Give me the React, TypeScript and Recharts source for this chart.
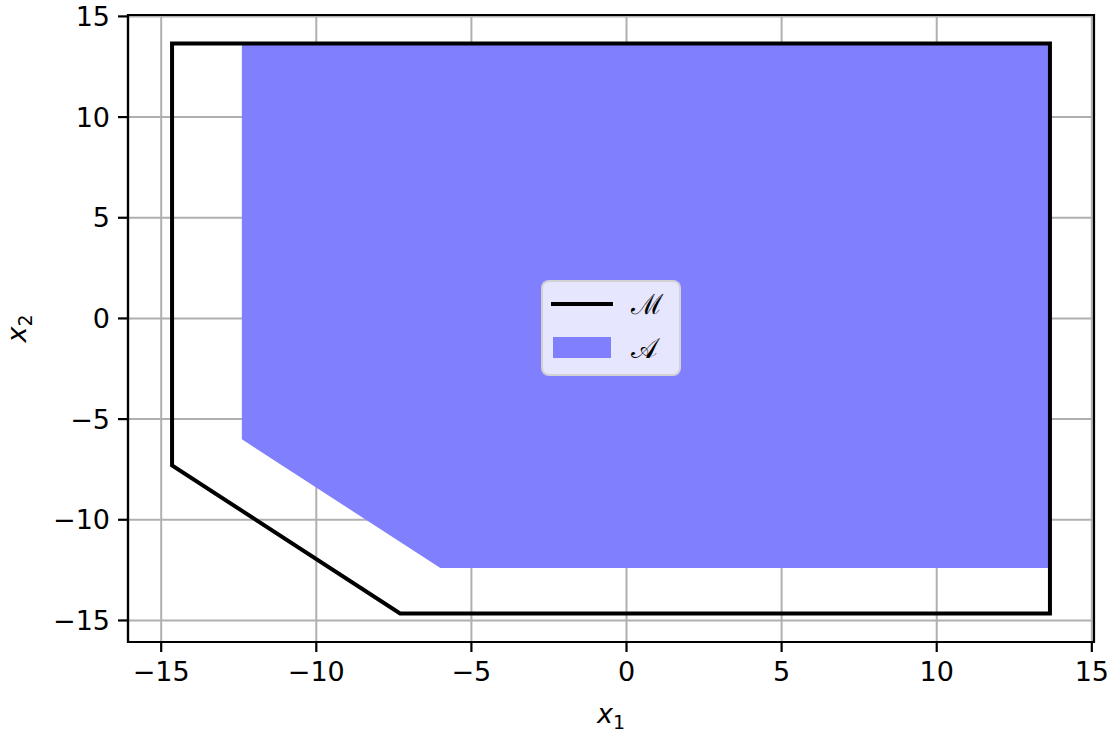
import React from "react";
import {
  ComposedChart,
  Area,
  Line,
  CartesianGrid,
  XAxis,
  YAxis,
  Legend,
  ReferenceArea,
} from "recharts";

// polígono M (contorno negro)
const mX = [-14.65, 13.65, 13.65, -7.3, -14.65, -14.65];
const mY = [13.65, 13.65, -14.65, -14.65, -7.3, 13.65];

// región A (relleno azul): borde inferior / superior
const aX = [-12.4, -6.0, 13.65];
const aLow = [-6.0, -12.4, -12.4];
const aHigh = [13.65, 13.65, 13.65];

const ticks = [-15, -10, -5, 0, 5, 10, 15];
const domain: [number, number] = [-16.07, 15.07];

const aData = aX.map((x, i) => ({ x, range: [aLow[i], aHigh[i]] }));
const mData = mX.map((x, i) => ({ x, y: mY[i] }));

const FONT = "DejaVu Sans, sans-serif";
const fmt = (v: number) => (v < 0 ? `\u2212${-v}` : `${v}`);

const LegendBox = () => (
  <div
    style={{
      width: 136,
      height: 92,
      background: "rgba(255,255,255,0.8)",
      border: "2px solid rgba(204,204,204,0.8)",
      borderRadius: 8,
      position: "relative",
      fontFamily: FONT,
    }}
  >
    <svg width={136} height={92} style={{ position: "absolute", left: 0, top: 0 }}>
      <line x1={8} x2={70} y1={22} y2={22} stroke="#000" strokeWidth={4} />
      <rect x={10} y={55} width={58} height={21} fill="#8080ff" />
      <text x={88} y={32} fontSize={28} fontFamily="DejaVu Serif, serif" fill="#000">
        ℳ
      </text>
      <text x={88} y={76} fontSize={28} fontFamily="DejaVu Serif, serif" fill="#000">
        𝒜
      </text>
    </svg>
  </div>
);

export default function App() {
  return (
    <div style={{ position: "absolute", left: 0, top: 0, background: "#fff" }}>
      <ComposedChart
        width={1113}
        height={733}
        data={aData}
        margin={{ top: 15, right: 19, bottom: 41, left: 48 }}
      >
        <XAxis
          dataKey="x"
          type="number"
          domain={domain}
          allowDataOverflow
          ticks={ticks}
          tickFormatter={fmt}
          height={50}
          tickSize={10}
          tickMargin={10}
          stroke="#000"
          axisLine={{ stroke: "#000", strokeWidth: 2.2 }}
          tickLine={{ stroke: "#000", strokeWidth: 2.2 }}
          tick={{ fontSize: 27, fill: "#000", fontFamily: FONT }}
          label={{
            content: (p: any) => {
              const vb = p.viewBox;
              return (
                <text x={vb.x + vb.width / 2} y={vb.y + 81} textAnchor="middle" fontFamily={FONT} fontSize={27} fill="#000">
                  <tspan fontStyle="italic">x</tspan>
                  <tspan dy={6} fontSize={19}>1</tspan>
                </text>
              );
            },
          }}
        />
        <YAxis
          type="number"
          domain={domain}
          allowDataOverflow
          ticks={ticks}
          tickFormatter={fmt}
          width={80}
          tickSize={10}
          tickMargin={8}
          stroke="#000"
          axisLine={{ stroke: "#000", strokeWidth: 2.2 }}
          tickLine={{ stroke: "#000", strokeWidth: 2.2 }}
          tick={{ fontSize: 27, fill: "#000", fontFamily: FONT }}
          label={{
            content: (p: any) => {
              const vb = p.viewBox;
              const cy = vb.y + vb.height / 2;
              return (
                <text x={26} y={cy} textAnchor="middle" transform={`rotate(-90, 26, ${cy})`} fontFamily={FONT} fontSize={27} fill="#000">
                  <tspan fontStyle="italic">x</tspan>
                  <tspan dy={6} fontSize={19}>2</tspan>
                </text>
              );
            },
          }}
        />
        <Area
          dataKey="range"
          type="linear"
          fill="#8080ff"
          fillOpacity={1}
          stroke="none"
          isAnimationActive={false}
          legendType="none"
        />
        <CartesianGrid stroke="#b0b0b0" strokeWidth={2} />
        <ReferenceArea
          x1={domain[0]}
          x2={domain[1]}
          y1={domain[0]}
          y2={domain[1]}
          fill="none"
          fillOpacity={0}
          stroke="#000"
          strokeWidth={2.2}
          strokeOpacity={1}
          ifOverflow="visible"
        />
        <Line
          data={mData}
          dataKey="y"
          type="linear"
          stroke="#000"
          strokeWidth={4}
          strokeLinecap="square"
          dot={false}
          activeDot={false}
          isAnimationActive={false}
          legendType="none"
        />
        <Legend
          layout="horizontal"
          verticalAlign="middle"
          align="center"
          wrapperStyle={{ left: 541, top: 280, width: 140, height: 96 }}
          content={() => <LegendBox />}
        />
      </ComposedChart>
    </div>
  );
}
